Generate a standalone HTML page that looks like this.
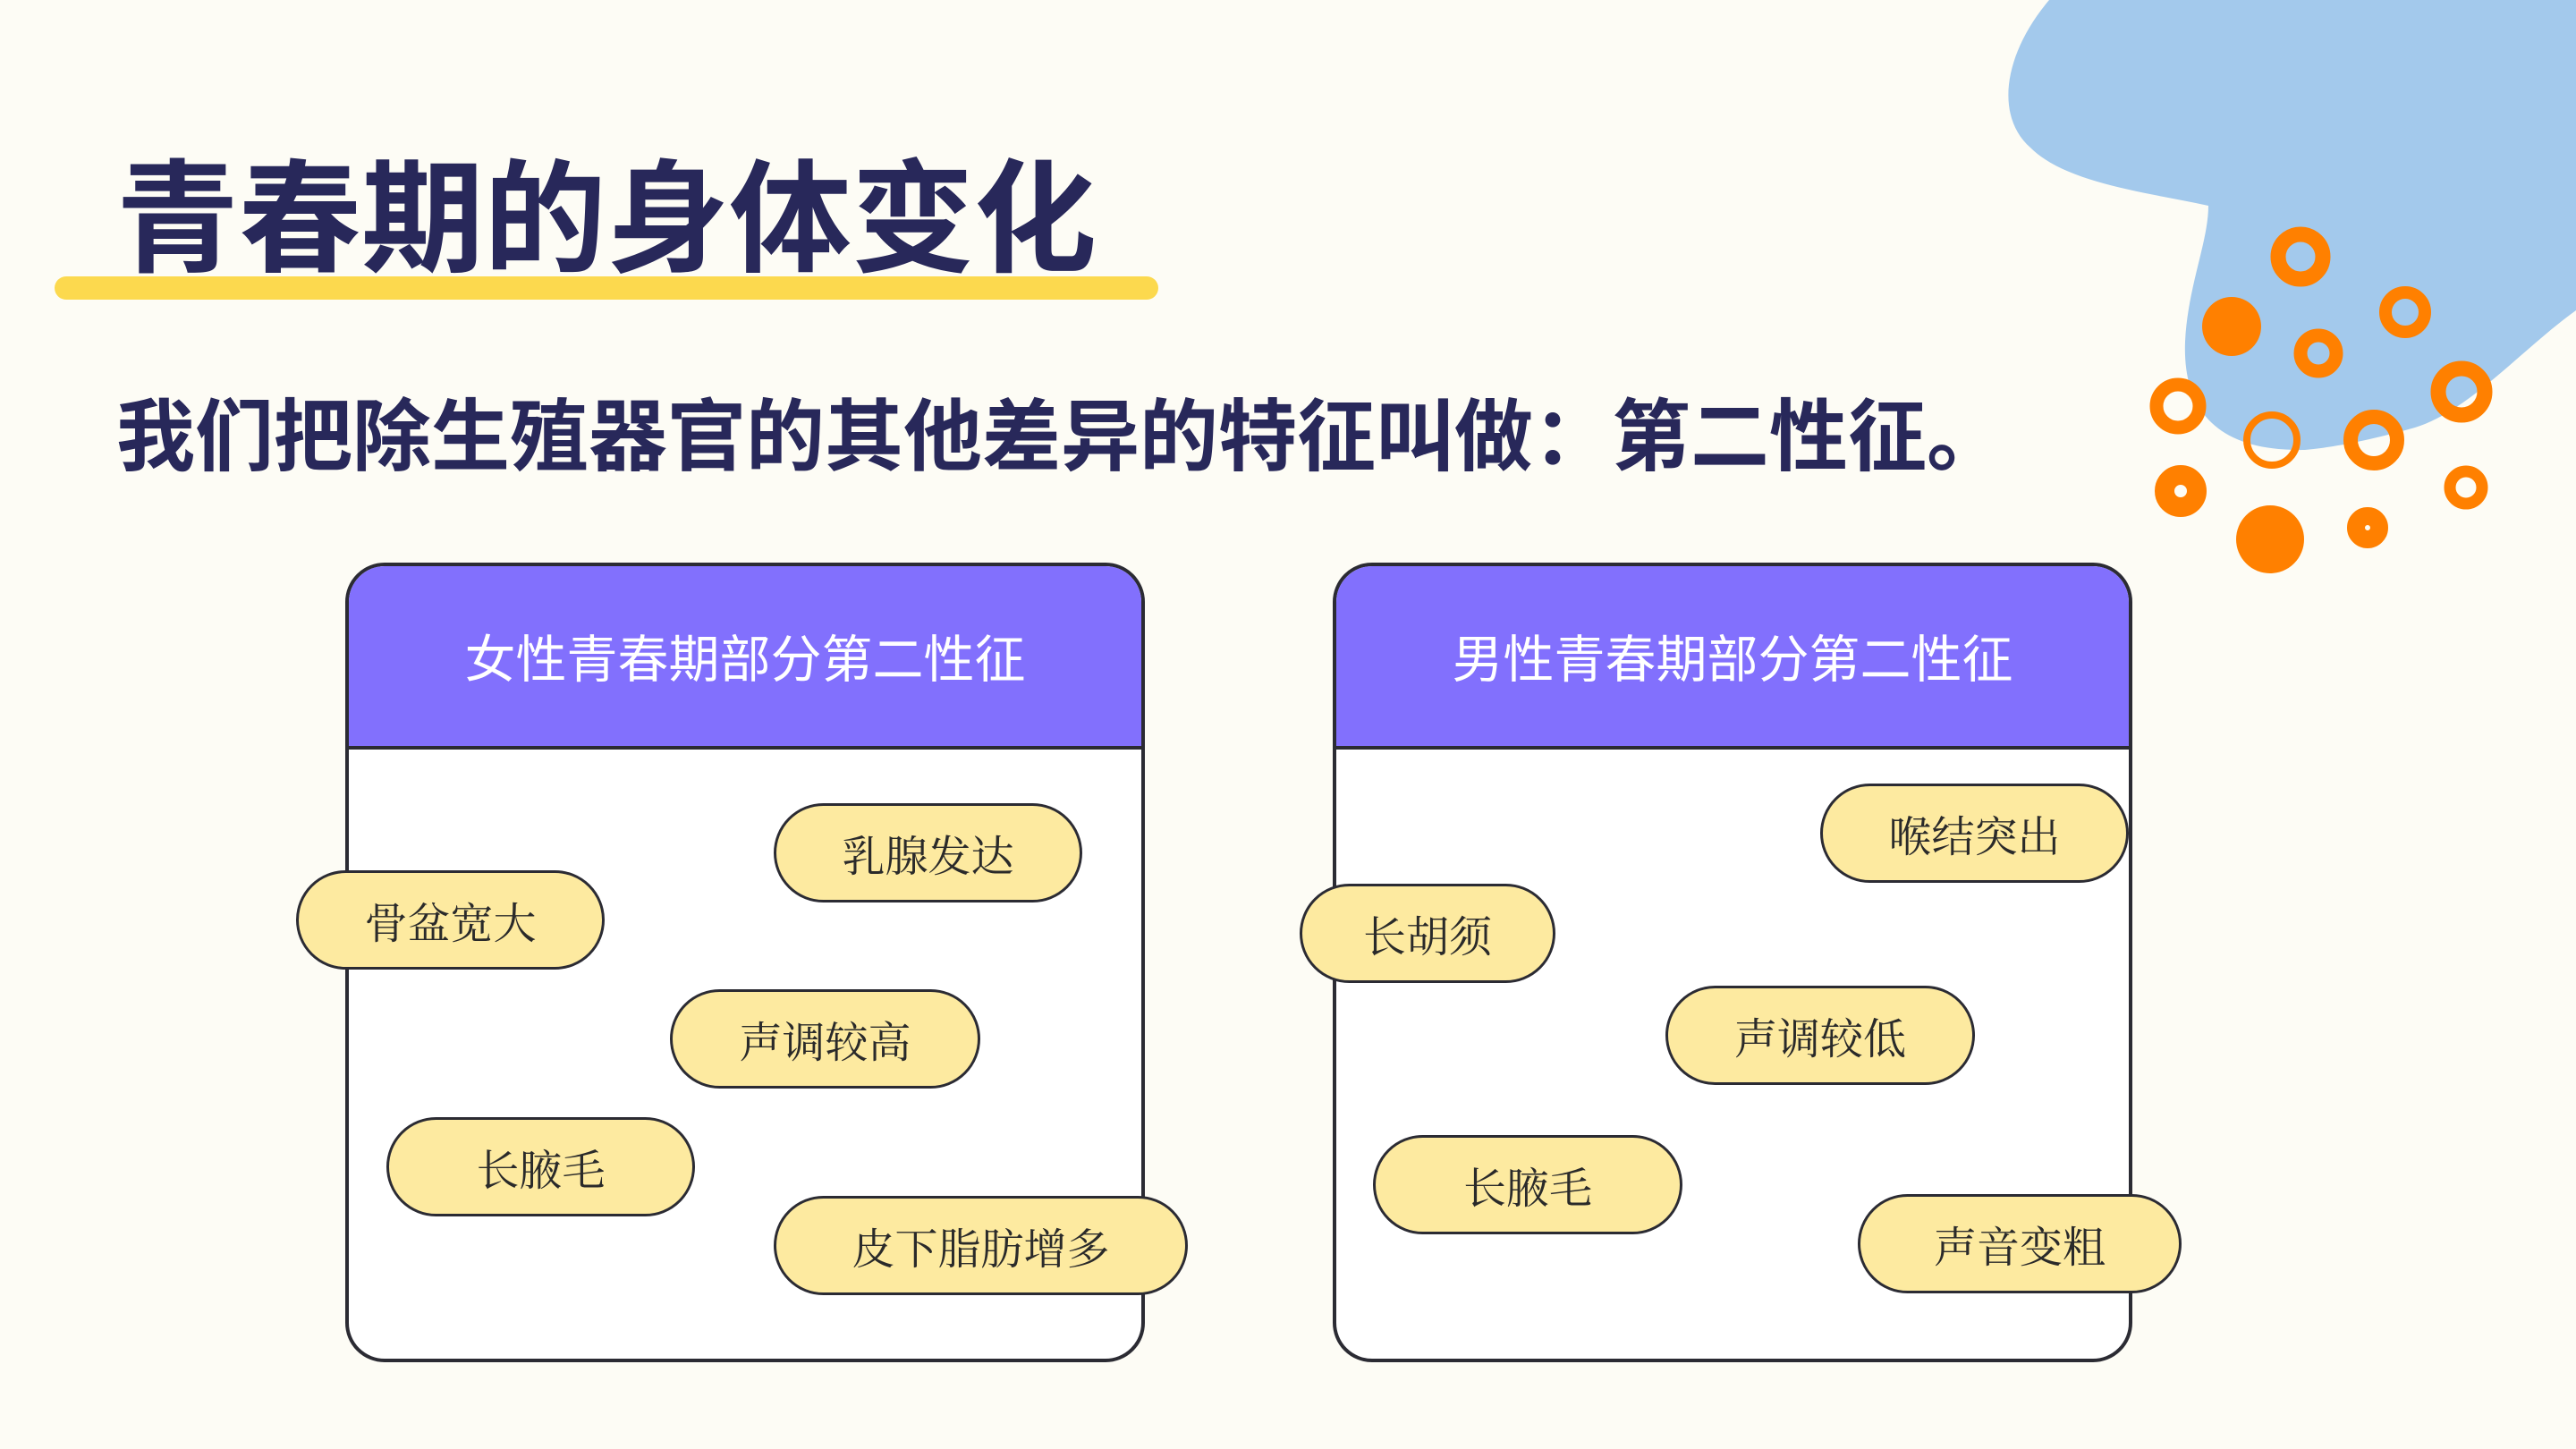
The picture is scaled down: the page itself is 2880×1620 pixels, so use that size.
<!DOCTYPE html>
<html><head><meta charset="utf-8"><style>
body{margin:0;width:2880px;height:1620px;background:#fdfcf5;position:relative;overflow:hidden;font-family:"Liberation Sans","Noto Sans CJK SC",sans-serif;}
.abs{position:absolute}
.box{position:absolute;top:629px;width:894px;height:894px;border:4px solid #2b2b33;border-radius:44px;background:#fff;overflow:hidden;box-sizing:border-box}
.hdr{height:201px;background:#8270fd;border-bottom:4px solid #2b2b33;color:#fff;font-size:57px;text-align:center;line-height:201px;font-family:"Noto Sans CJK SC",sans-serif}
.pill{position:absolute;height:111px;border:3px solid #2b2b33;border-radius:56px;background:#fdeaa0;box-sizing:border-box;text-align:center;line-height:105px;font-size:48px;color:#2a2a2a;font-family:"Noto Serif CJK SC","Noto Sans CJK SC",serif}
</style></head><body>
<svg class="abs" style="left:0;top:0" width="2880" height="1620">
<path d="M2291 0 L2880 0 L2880 347 C2820 390 2760 460 2700 478 C2650 492 2610 500 2577 503 C2480 505 2440 460 2443 382 C2446 320 2469 270 2469 230 C2400 215 2310 205 2270 165 C2230 130 2240 60 2291 0Z" fill="#a3c9ec"/>
<g fill="none" stroke="#ff8000">
<circle cx="2572" cy="287" r="25" stroke-width="17"/>
<circle cx="2592" cy="395" r="20" stroke-width="15"/>
<circle cx="2689" cy="349" r="22" stroke-width="14"/>
<circle cx="2752" cy="438" r="26" stroke-width="17"/>
<circle cx="2435" cy="454" r="24" stroke-width="15"/>
<circle cx="2540" cy="492" r="28" stroke-width="8"/>
<circle cx="2654" cy="492" r="26" stroke-width="16"/>
<circle cx="2438" cy="549" r="18" stroke-width="22"/>
<circle cx="2757" cy="545" r="18" stroke-width="13"/>
<circle cx="2647" cy="590" r="13" stroke-width="20"/>
</g>
<g fill="#ff8000">
<circle cx="2495" cy="365" r="33"/>
<circle cx="2538" cy="603" r="38"/>
</g>
<rect x="61" y="309" width="1234" height="26" rx="13" fill="#fcd94e"/>
<text x="130" y="293" font-size="137" font-weight="bold" fill="#28285a" font-family="Liberation Sans, Noto Sans CJK SC, sans-serif">青春期的身体变化</text>
<text x="130" y="519" font-size="88" font-weight="bold" fill="#28285a" font-family="Liberation Sans, Noto Sans CJK SC, sans-serif">我们把除生殖器官的其他差异的特征叫做：第二性征。</text>
</svg>
<div class="box" style="left:386px"><div class="hdr">女性青春期部分第二性征</div></div>
<div class="box" style="left:1490px"><div class="hdr">男性青春期部分第二性征</div></div>
<div class="pill" style="left:331px;top:973px;width:345px">骨盆宽大</div>
<div class="pill" style="left:865px;top:898px;width:345px">乳腺发达</div>
<div class="pill" style="left:749px;top:1106px;width:347px">声调较高</div>
<div class="pill" style="left:432px;top:1249px;width:345px">长腋毛</div>
<div class="pill" style="left:865px;top:1337px;width:463px">皮下脂肪增多</div>
<div class="pill" style="left:2035px;top:876px;width:345px">喉结突出</div>
<div class="pill" style="left:1453px;top:988px;width:286px">长胡须</div>
<div class="pill" style="left:1862px;top:1102px;width:346px">声调较低</div>
<div class="pill" style="left:1535px;top:1269px;width:346px">长腋毛</div>
<div class="pill" style="left:2077px;top:1335px;width:362px">声音变粗</div>
</body></html>
